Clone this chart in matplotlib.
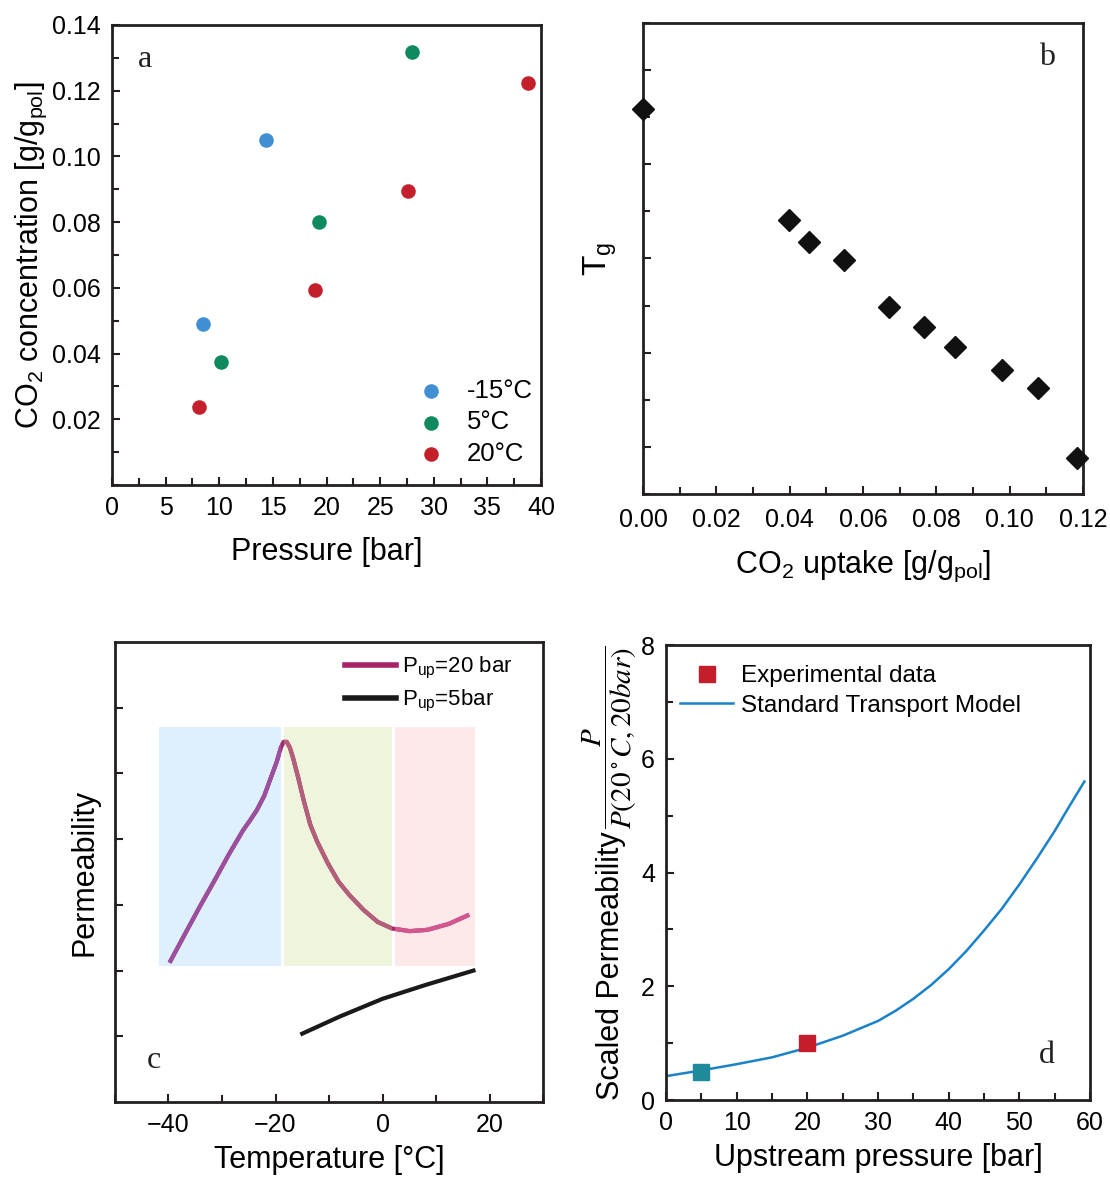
import matplotlib
matplotlib.use('Agg')
import matplotlib.pyplot as plt
from matplotlib.lines import Line2D
from matplotlib.patches import Rectangle
from matplotlib.ticker import MultipleLocator, NullFormatter, FormatStrFormatter

plt.rcParams['font.family'] = ['Liberation Sans', 'DejaVu Sans']
plt.rcParams['mathtext.fontset'] = 'custom'
plt.rcParams['mathtext.rm'] = 'Liberation Sans'
plt.rcParams['mathtext.it'] = 'Liberation Sans'
plt.rcParams['mathtext.bf'] = 'Liberation Sans:bold'

# panel a: CO2 sorption
temps_a = ['-15°C', '5°C', '20°C']
colors_a = ['#3f8fd2', '#0f8a5f', '#c4202c']
p_m15 = [8.5, 14.4]
c_m15 = [0.0489, 0.1049]
p_5 = [10.2, 19.3, 28.0]
c_5 = [0.0374, 0.0799, 0.1319]
p_20 = [8.1, 18.9, 27.6, 38.8]
c_20 = [0.0238, 0.0594, 0.0895, 0.1223]

# panel b: Tg vs uptake (arbitrary units)
uptake_b = [0.0, 0.0399, 0.0452, 0.0548, 0.0672, 0.0765, 0.0851, 0.0978, 0.1078, 0.1183]
tg_b = [4.59, 3.41, 3.18, 2.98, 2.49, 2.27, 2.06, 1.82, 1.62, 0.88]

# panel c: permeability vs temperature (arbitrary units)
temp_20bar = [-39.8, -36.7, -34.1, -31.4, -28.7, -26.1, -24.8, -23.5, -22.1, -20.8,
              -19.8, -19.0, -18.5, -17.9, -17.3, -16.7, -15.8, -14.8, -13.5, -12.2,
              -10.2, -8.2, -6.2, -3.5, -0.9, 1.8, 5.1, 8.4, 12.4, 16.2]
perm_20bar = [2.12, 2.59, 2.98, 3.37, 3.77, 4.13, 4.28, 4.44, 4.66, 4.95,
              5.17, 5.39, 5.48, 5.48, 5.39, 5.23, 4.95, 4.61, 4.22, 3.96,
              3.63, 3.35, 3.15, 2.92, 2.74, 2.64, 2.60, 2.62, 2.71, 2.85]
temp_5bar = [-15.0, -8.0, 0.0, 8.0, 17.0]
perm_5bar = [1.04, 1.30, 1.57, 1.78, 2.00]
regions_c = [(-41.7, -19.0, '#ddf0fb', '#9a4f9f'),
             (-18.5, 1.8, '#eef5dc', '#b2607a'),
             (2.4, 17.3, '#fde9ea', '#d3578f')]
region_ylo, region_yhi = 2.07, 5.71

# panel d: scaled permeability vs upstream pressure
p_exp = [5, 20]
perm_exp = [0.5, 1.0]
exp_colors = ['#1e8a9a', '#c41e2a']
p_model = [0, 5, 10, 15, 20, 25, 30, 32.5, 35, 37.5, 40, 42.5, 45, 47.5, 50, 52.5, 55, 57, 59.2]
perm_model = [0.42, 0.52, 0.63, 0.75, 0.92, 1.13, 1.39, 1.57, 1.78, 2.02, 2.30, 2.62,
              2.98, 3.36, 3.79, 4.25, 4.73, 5.15, 5.60]

W, H = 1110, 1179


def style(ax):
    for s in ax.spines.values():
        s.set_linewidth(2.0)
        s.set_color('#231f20')
    ax.tick_params(which='both', direction='in', top=False, right=False,
                   width=1.5, color='#231f20', labelsize=18)
    ax.tick_params(which='major', length=6, pad=8)
    ax.tick_params(which='minor', length=5)


def panel_letter(ax, x, y, s):
    ax.text(x, y, s, transform=ax.transAxes, ha='center', va='center',
            fontsize=23, family='Liberation Serif', color='#231f20')


fig = plt.figure(figsize=(W / 100, H / 100), dpi=100)

# ---- a ----
ax = fig.add_axes([0.1009, 0.5886, 0.3865, 0.3902])
style(ax)
for p, c, col, lab in zip([p_m15, p_5, p_20], [c_m15, c_5, c_20], colors_a, temps_a):
    ax.scatter(p, c, s=110, color=col, label=lab, zorder=3, linewidths=0)
ax.set_xlim(0, 40)
ax.set_ylim(0, 0.14)
ax.xaxis.set_major_locator(MultipleLocator(5))
ax.xaxis.set_minor_locator(MultipleLocator(2.5))
ax.set_yticks([0.02, 0.04, 0.06, 0.08, 0.10, 0.12, 0.14])
ax.yaxis.set_minor_locator(MultipleLocator(0.01))
ax.set_xlabel('Pressure [bar]', fontsize=22, labelpad=12)
ax.set_ylabel('CO$_2$ concentration [g/g$_{pol}$]', fontsize=22, labelpad=2.5)
ax.legend(loc='lower right', bbox_to_anchor=(0.981, 0.041), frameon=False,
          fontsize=18.5, handletextpad=0.6, borderpad=0, borderaxespad=0,
          labelspacing=0.30, handlelength=1.6)
panel_letter(ax, 0.077, 0.924, 'a')

# ---- b ----
ax = fig.add_axes([0.5793, 0.5810, 0.3964, 0.3995])
style(ax)
ax.plot(uptake_b, tg_b, 'D', color='#111111', markersize=11.5, clip_on=False, zorder=3)
ax.set_xlim(0, 0.12)
ax.set_ylim(0.5, 5.5)
ax.xaxis.set_major_locator(MultipleLocator(0.02))
ax.xaxis.set_minor_locator(MultipleLocator(0.01))
ax.xaxis.set_major_formatter(FormatStrFormatter('%.2f'))
ax.yaxis.set_major_locator(MultipleLocator(1))
ax.yaxis.set_minor_locator(MultipleLocator(0.5))
ax.yaxis.set_major_formatter(NullFormatter())
ax.tick_params(axis='x', which='major', pad=10)
ax.set_xlabel('CO$_2$ uptake [g/g$_{pol}$]', fontsize=22, labelpad=12)
ax.set_ylabel('T$_g$', fontsize=24, labelpad=9)
panel_letter(ax, 0.918, 0.926, 'b')

# ---- c ----
ax = fig.add_axes([0.1036, 0.0653, 0.3856, 0.3902])
style(ax)
for x0, x1, bg, lc in regions_c:
    ax.add_patch(Rectangle((x0, region_ylo), x1 - x0, region_yhi - region_ylo,
                           facecolor=bg, edgecolor='none', zorder=1))
ax.plot(temp_20bar, perm_20bar, color='#a8286e', lw=3, zorder=2, solid_capstyle='butt')
for x0, x1, bg, lc in regions_c:
    ln, = ax.plot(temp_20bar, perm_20bar, color=lc, lw=3, zorder=3, solid_capstyle='butt')
    clip = Rectangle((x0, 0), x1 - x0, 7, transform=ax.transData)
    ln.set_clip_path(clip)
ax.plot(temp_5bar, perm_5bar, color='#1a1a1a', lw=3, zorder=3)
ax.set_xlim(-50, 30)
ax.set_ylim(0, 7)
ax.xaxis.set_major_locator(MultipleLocator(20))
ax.xaxis.set_minor_locator(MultipleLocator(10))
ax.set_yticks([1, 2, 3, 4, 5, 6])
ax.yaxis.set_major_formatter(NullFormatter())
ax.tick_params(axis='x', which='major', pad=8)
ax.set_xlabel('Temperature [°C]', fontsize=22, labelpad=6)
ax.set_ylabel('Permeability', fontsize=22, labelpad=3)
handles = [Line2D([], [], color='#a8226a', lw=4), Line2D([], [], color='#1a1a1a', lw=4)]
ax.legend(handles, ['P$_{up}$=20 bar', 'P$_{up}$=5bar'], loc='upper right',
          bbox_to_anchor=(0.93, 0.971), frameon=False, fontsize=16,
          handlelength=2.3, handletextpad=0.3, labelspacing=0.3, borderpad=0,
          borderaxespad=0)
panel_letter(ax, 0.091, 0.091, 'c')

# ---- d ----
ax = fig.add_axes([0.6, 0.0670, 0.3820, 0.3859])
style(ax)
ax.plot(p_model, perm_model, color='#1a82c8', lw=1.8, zorder=2)
for p, v, col in zip(p_exp, perm_exp, exp_colors):
    ax.plot([p], [v], 's', color=col, markersize=11, zorder=3)
ax.set_xlim(0, 60)
ax.set_ylim(0, 8)
ax.xaxis.set_major_locator(MultipleLocator(10))
ax.xaxis.set_minor_locator(MultipleLocator(5))
ax.yaxis.set_major_locator(MultipleLocator(2))
ax.yaxis.set_minor_locator(MultipleLocator(1))
ax.set_xlabel('Upstream pressure [bar]', fontsize=22, labelpad=6)
fig.text(611 / W, 1 - 966 / H, 'Scaled Permeability', rotation=90,
         ha='center', va='center', fontsize=22)
fig.text(610 / W, 1 - 737 / H, r'$\dfrac{P}{P(20^\circ C, 20bar)}$', rotation=90,
         ha='center', va='center', fontsize=21, math_fontfamily='stix')
handles = [Line2D([], [], ls='none', marker='s', color='#c41e2a', markersize=11),
           Line2D([], [], color='#1a82c8', lw=1.8)]
ax.legend(handles, ['Experimental data', 'Standard Transport Model'], loc='upper left',
          bbox_to_anchor=(0.033, 0.956), frameon=False, fontsize=17.5,
          handlelength=2.2, handletextpad=0.3, labelspacing=0.32, borderpad=0,
          borderaxespad=0)
panel_letter(ax, 0.899, 0.097, 'd')

fig.savefig('out.png', dpi=100)
